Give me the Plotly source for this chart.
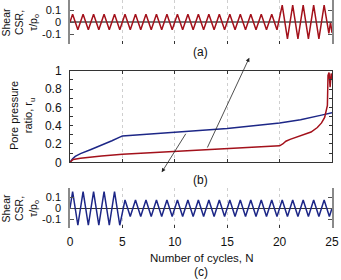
import plotly.graph_objects as go

# ---------------- data ----------------
# panel (a): red loading, per-cycle peak / trough amplitude (peak at k+0.25, trough at k+0.75)
red_peak = [0.065]*20 + [0.14, 0.14, 0.14, 0.14, 0.14]
red_trough = [0.065]*20 + [0.14, 0.14, 0.14, 0.14]
red_tail_N = [24.7, 24.86, 25.0]
red_tail_v = [-0.095, 0.0, -0.09]

# panel (c): blue loading
blue_peak = [0.15]*5 + [0.075]*20
blue_trough = [0.155]*5 + [0.075]*20
blue_tail_N = [25.0]
blue_tail_v = [0.0]

# panel (b): pore pressure ratio
ru_blue_N = [0, 0.25, 0.5, 0.8, 1, 2, 3, 4, 4.75, 5, 6, 10, 15, 20, 22, 24, 25]
ru_blue = [0, 0.04, 0.065, 0.085, 0.095, 0.14, 0.185, 0.235, 0.275, 0.287, 0.295, 0.327, 0.37, 0.43, 0.465, 0.515, 0.54]
ru_red_N = [0, 0.3, 1, 2, 3, 5, 10, 15, 20, 20.3, 20.6, 21, 22, 23, 23.6, 24, 24.3, 24.5, 24.56, 24.62,
            24.72, 24.82, 24.92, 25]
ru_red = [0, 0.03, 0.045, 0.06, 0.07, 0.087, 0.116, 0.145, 0.18, 0.2, 0.23, 0.25, 0.29, 0.33, 0.38, 0.43,
          0.49, 0.57, 0.62, 0.95, 0.98, 0.82, 0.97, 0.9]

x_ticks = [0, 5, 10, 15, 20, 25]
csr_ticks = [-0.1, 0, 0.1]
csr_ticktext = ["-0.1", "0", "0.1"]
ru_ticks = [0, 0.1, 0.2, 0.3, 0.4, 0.5, 0.6, 0.7, 0.8, 0.9, 1.0]
ru_ticktext = ["0", "", "0.2", "", "0.4", "", "0.6", "", "0.8", "", "1"]


def wave(peaks, troughs, tail_N, tail_v):
    xs, ys = [0.0], [0.0]
    for k, p in enumerate(peaks):
        xs.append(k + 0.25); ys.append(p)
        if k < len(troughs):
            xs.append(k + 0.75); ys.append(-troughs[k])
    xs += tail_N
    ys += tail_v
    return xs, ys


RED = "#a3111b"
BLUE = "#1d2787"
FONT = "Liberation Sans"

ra_x, ra_y = wave(red_peak, red_trough, red_tail_N, red_tail_v)
bc_x, bc_y = wave(blue_peak, blue_trough, blue_tail_N, blue_tail_v)

fig = go.Figure()
fig.add_trace(go.Scatter(x=ra_x, y=ra_y, mode="lines", line=dict(color=RED, width=1.5),
                         xaxis="x", yaxis="y", showlegend=False, cliponaxis=False))
fig.add_trace(go.Scatter(x=ru_blue_N, y=ru_blue, mode="lines", line=dict(color=BLUE, width=1.5),
                         xaxis="x2", yaxis="y2", showlegend=False))
fig.add_trace(go.Scatter(x=ru_red_N, y=ru_red, mode="lines", line=dict(color=RED, width=1.5),
                         xaxis="x2", yaxis="y2", showlegend=False))
fig.add_trace(go.Scatter(x=bc_x, y=bc_y, mode="lines", line=dict(color=BLUE, width=1.5),
                         xaxis="x3", yaxis="y3", showlegend=False))

H_PLOT = 228.0
def py(px):  # pixel from top of plot area -> paper y
    return 1 - px / H_PLOT

grid = dict(showgrid=True, gridcolor="#cfcfcf", griddash="dot", gridwidth=1)
xcommon = dict(range=[0, 25], tickvals=[5, 10, 15, 20], ticks="inside", ticklen=3,
               tickcolor="#333", zeroline=False, automargin=False, **grid)
csr_font = dict(family=FONT, size=11, color="#111")

fig.update_layout(
    width=341, height=280,
    margin=dict(l=70, r=9, t=0, b=52, autoexpand=False),
    paper_bgcolor="white", plot_bgcolor="white",
    font=dict(family=FONT, size=12, color="#111"),
    xaxis=dict(domain=[0, 1], anchor="y", showticklabels=False, showline=False, **xcommon),
    xaxis2=dict(domain=[0, 1], anchor="y2", showticklabels=False, showline=True, linecolor="#333",
                linewidth=1, mirror="ticks", **xcommon),
    xaxis3=dict(domain=[0, 1], anchor="y3", showline=False,
                **{k: v for k, v in xcommon.items() if k != "tickvals"},
                tickvals=x_ticks, ticktext=[str(t) for t in x_ticks], ticklabelstandoff=5),
    yaxis=dict(domain=[py(43.6), py(0.4)], anchor="x", range=[-0.18, 0.18], automargin=False,
               tickvals=csr_ticks, ticktext=csr_ticktext, ticks="inside", ticklen=4, tickfont=csr_font,
               tickcolor="#555", showline=True, linecolor="#8a8a8a", linewidth=1.5, mirror="ticks",
               showgrid=False, zeroline=True, zerolinecolor="#7a7a7a", zerolinewidth=1.5,
               ticklabelstandoff=5),
    yaxis2=dict(domain=[py(162.3), py(70.7)], anchor="x2", range=[0, 1], automargin=False,
                tickvals=ru_ticks, ticktext=ru_ticktext, ticks="inside", ticklen=3,
                tickcolor="#333", showline=True, linecolor="#333", linewidth=1, mirror="ticks",
                showgrid=False, zeroline=False, ticklabelstandoff=5),
    yaxis3=dict(domain=[py(228), py(188.4)], anchor="x3", range=[-0.18, 0.18], automargin=False,
                tickvals=csr_ticks, ticktext=csr_ticktext, ticks="inside", ticklen=4, tickfont=csr_font,
                tickcolor="#555", showline=True, linecolor="#8a8a8a", linewidth=1.5, mirror="ticks",
                showgrid=False, zeroline=True, zerolinecolor="#333", zerolinewidth=1.2,
                ticklabelstandoff=5),
)

ann = []
def label(text, x_px, y_px, angle=0, size=12):
    ann.append(dict(text=text, xref="paper", yref="paper", x=(x_px - 70) / 262.0, y=py(y_px),
                    xanchor="center", yanchor="middle", showarrow=False, textangle=angle,
                    font=dict(family=FONT, size=size, color="#111")))

label("(a)", 200, 52)
label("(b)", 200, 180)
label("(c)", 201, 272)
label("Number of cycles, N", 202, 257.5, size=11.5)
label("Shear<br>CSR,<br>τ/p<sub>o</sub>", 20.5, 22, angle=-90, size=10.5)
label("Shear<br>CSR,<br>τ/p<sub>o</sub>", 20.5, 208, angle=-90, size=10.5)
label("Pore pressure<br>ratio, r<sub>u</sub>", 22, 116, angle=-90, size=11)

# arrows linking panel (b) curves to loading panels
for head, tail in [((249.3, 57.7), (206.7, 149.0)), ((161.7, 172.3), (186.7, 132.3))]:
    ann.append(dict(text="", xref="paper", yref="paper", x=(head[0] - 70) / 262.0, y=py(head[1]),
                    ax=tail[0] - head[0], ay=tail[1] - head[1], showarrow=True,
                    arrowhead=2, arrowsize=1, arrowwidth=0.8, arrowcolor="#222"))

fig.update_layout(annotations=ann)
fig.write_html("out.html", config={"displayModeBar": False},
               post_script="document.body.style.margin='0px';document.body.style.overflow='hidden';")
